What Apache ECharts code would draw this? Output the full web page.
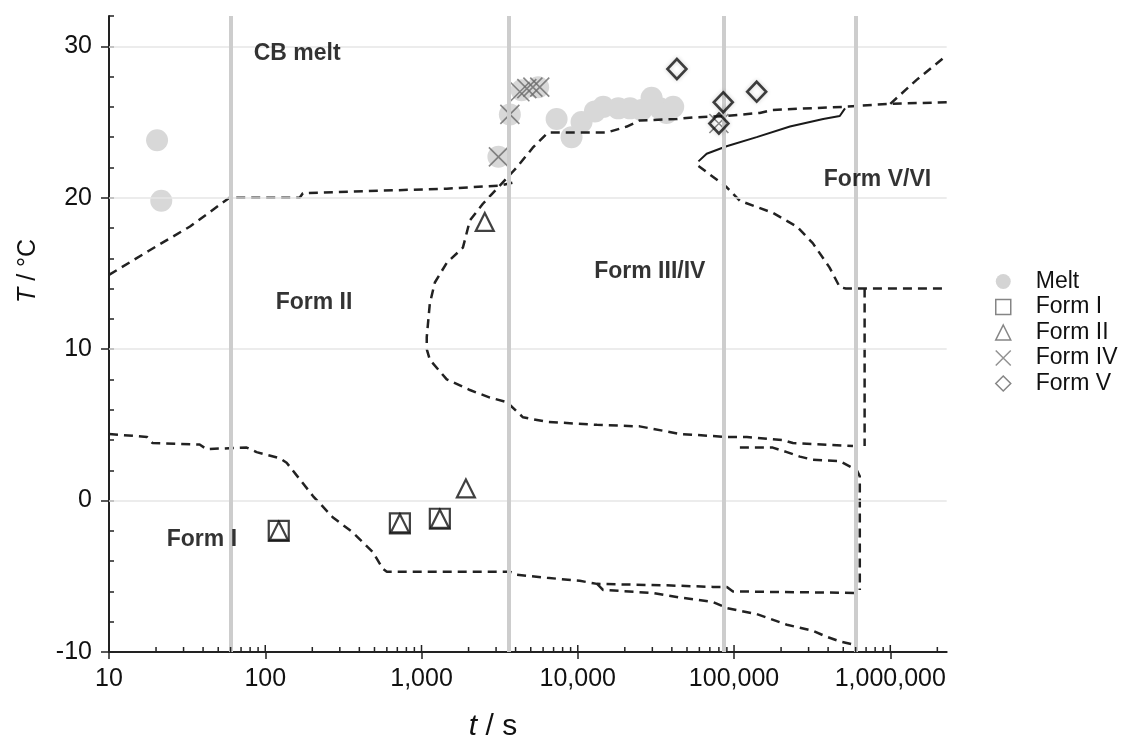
<!DOCTYPE html>
<html>
<head>
<meta charset="utf-8">
<title>Cocoa butter polymorph map</title>
<script src="https://cdn.jsdelivr.net/npm/echarts@6/dist/echarts.min.js"></script>
<style>
    html, body { margin: 0; padding: 0; background: #fff; }
    #chart { width: 1128px; height: 740px; }
</style>
</head>
<body>
<div id="chart"></div>
<script>
// t in s, T in °C
var melt = [[20.3, 23.8], [21.6, 19.8], [3105, 22.7], [3675, 25.5], [4370, 27.1], [5580, 27.3],
    [7320, 25.2], [9120, 24.0], [10570, 25.0], [12870, 25.7], [14560, 26.0], [18160, 25.9],
    [21580, 25.9], [25610, 25.8], [29670, 26.6], [33550, 25.9], [37000, 25.6], [40800, 26.0]];
var formI = [[122, -2.0], [727, -1.5], [1310, -1.2]];
var formII = [[122, -2.0], [727, -1.5], [1310, -1.2], [1923, 0.8], [2540, 18.4]];
var formIV = [[3105, 22.7], [3675, 25.5], [4260, 27.0], [4720, 27.2], [5160, 27.3], [5710, 27.3], [80000, 24.9]];
var formV = [[43100, 28.5], [85300, 26.3], [80000, 24.9], [139600, 27.0]];

// phase boundaries
var bMeltII = [[10, 14.9], [18, 16.5], [33, 18.1], [59, 20.0], [166, 20.0], [174, 20.3], [1450, 20.6], [3170, 20.8], [3840, 21.0]];
var bCurve = [[2296000, 26.3], [995000, 26.2], [498000, 26.0], [177000, 25.8], [146000, 25.6], [90000, 25.4],
    [54500, 25.3], [43000, 25.2], [24900, 25.1], [20600, 24.7], [15300, 24.3], [7670, 24.3], [6430, 24.3],
    [5150, 23.3], [4070, 22.0], [3170, 20.8], [2470, 19.6], [2040, 18.5], [1840, 16.7], [1450, 15.7],
    [1217, 14.4], [1130, 13.0], [1080, 10.8], [1080, 10.0], [1130, 9.3], [1450, 8.0], [2040, 7.3],
    [2740, 6.8], [3520, 6.5], [4460, 5.5], [6350, 5.2], [13270, 5.0], [24900, 4.9], [45100, 4.4],
    [90000, 4.2], [120800, 4.2], [205000, 4.0], [238000, 3.8], [577000, 3.6]];
var bSpur = [[1000000, 26.2], [1480000, 27.8], [2296000, 29.4]];
var bBranch = [[109000, 3.5], [177000, 3.5], [218000, 3.2], [264000, 2.9], [319000, 2.7], [475000, 2.6],
    [611000, 2.0], [638000, 1.6], [638000, -5.9]];
var bVVI = [[59200, 22.1], [89600, 20.7], [109000, 19.8], [177000, 19.0], [252000, 18.1], [319000, 17.0],
    [408000, 15.4], [475000, 14.1], [519000, 14.0], [2296000, 14.0]];
var bVVIdrop = [[685000, 14.0], [685000, 3.6]];
var solidV = [[59200, 22.4], [66800, 22.9], [89600, 23.4], [139600, 24.0], [228000, 24.7], [372000, 25.2],
    [475000, 25.4], [513000, 25.9]];
var bFormI = [[10, 4.4], [17.5, 4.2], [19, 3.8], [38, 3.7], [42, 3.4], [76, 3.5], [88, 3.2], [124, 2.8],
    [137, 2.5], [202, 0.3], [270, -1.1], [363, -2.1], [488, -3.4], [565, -4.5], [600, -4.7], [3170, -4.7],
    [3670, -4.7], [4070, -4.9], [6350, -5.1], [10300, -5.3], [13300, -5.5], [37100, -5.6], [73300, -5.7],
    [90000, -5.7], [98400, -6.0], [611000, -6.1]];
var bFormILow = [[13300, -5.5], [14500, -5.9], [30200, -6.1], [45100, -6.4], [73300, -6.7], [90000, -7.1],
    [140000, -7.5], [170000, -7.8], [218000, -8.2], [264000, -8.4], [319000, -8.6], [393000, -9.0],
    [475000, -9.3], [577000, -9.5]];

// 1 min, 1 h, 1 day, 1 week
var timeMarks = [60, 3600, 86400, 604800];
var gridT = [0, 10, 20, 30];
var tMin = 10, tMax = 2296000;
var regionLabels = [
    { name: 'CB melt', value: [160, 29.5] },
    { name: 'Form II', value: [205, 13.1] },
    { name: 'Form III/IV', value: [28900, 15.1] },
    { name: 'Form V/VI', value: [828000, 21.2] },
    { name: 'Form I', value: [39.3, -2.6] }
];

var FONT = "'Liberation Sans', Arial, sans-serif";

// log minor ticks 1..9 x 10^n
var logTicks = [];
for (var d = 10; d < tMax; d *= 10) {
    for (var k = 1; k < 10; k++) {
        if (k * d <= tMax) logTicks.push([k * d, k === 1 ? 1 : 0]);
    }
}

function dashed(name, data) {
    return {
        name: name, type: 'line', data: data, symbol: 'none', silent: true, z: 3,
        lineStyle: { color: '#222', width: 2.5, type: [9, 6] }
    };
}

function withCommas(v) {
    return String(Math.round(v)).replace(/\B(?=(\d{3})+(?!\d))/g, ',');
}

var chart = echarts.init(document.getElementById('chart'));
var option = {
    animation: false,
    textStyle: { fontFamily: FONT },
    grid: { left: 109, right: 181.3, top: 16, bottom: 88 },
    xAxis: {
        type: 'log', logBase: 10, min: tMin, max: tMax,
        axisLine: { onZero: false, lineStyle: { color: '#222', width: 2 } },
        axisTick: { length: 7, lineStyle: { color: '#222', width: 1.5 } },
        axisLabel: {
            fontSize: 25, color: '#111', margin: 15, fontFamily: FONT,
            showMaxLabel: false, formatter: withCommas
        },
        splitLine: { show: false }
    },
    yAxis: [{
        type: 'value', min: -10, max: 32, interval: 10,
        axisLine: { onZero: false, lineStyle: { color: '#222', width: 2 } },
        axisTick: { length: 8, lineStyle: { color: '#222', width: 1.5 } },
        axisLabel: { fontSize: 25, color: '#111', margin: 17, fontFamily: FONT, showMaxLabel: false },
        splitLine: { show: false }
    }, {
        type: 'value', min: -10, max: 32, interval: 2, position: 'left',
        axisLine: { show: false, onZero: false },
        axisTick: { inside: true, length: 5, lineStyle: { color: '#222', width: 1.5 } },
        axisLabel: { show: false },
        splitLine: { show: false }
    }],
    legend: {
        orient: 'vertical', left: 990, top: 264,
        itemWidth: 15, itemHeight: 15, itemGap: 0.5,
        textStyle: { fontSize: 23, color: '#111', fontFamily: FONT, lineHeight: 25, padding: [0, 0, 0, 20] },
        data: [
            { name: 'Melt', itemStyle: { color: '#d4d4d4', borderWidth: 0 } },
            { name: 'Form I', itemStyle: { color: 'transparent', borderColor: '#666', borderWidth: 1.5 } },
            { name: 'Form II', itemStyle: { color: 'transparent', borderColor: '#666', borderWidth: 1.5 } },
            { name: 'Form IV', itemStyle: { color: 'transparent', borderColor: '#777', borderWidth: 1.5 } },
            { name: 'Form V', itemStyle: { color: 'transparent', borderColor: '#666', borderWidth: 1.5 } }
        ]
    },
    graphic: [{
        type: 'text', x: 493, y: 727,
        style: {
            text: '{i|t} / s', fill: '#111', fontSize: 30, fontFamily: FONT,
            align: 'center', verticalAlign: 'middle',
            rich: { i: { fontStyle: 'italic', fontSize: 30, fontFamily: FONT, fill: '#111' } }
        }
    }, {
        type: 'text', x: 28, y: 271, rotation: Math.PI / 2,
        style: {
            text: '{i|T} / °C', fill: '#111', fontSize: 25, fontFamily: FONT,
            align: 'center', verticalAlign: 'middle',
            rich: { i: { fontStyle: 'italic', fontSize: 25, fontFamily: FONT, fill: '#111' } }
        }
    }],
    series: [
        {
            name: 'guides', type: 'line', data: [], z: 1, silent: true,
            markLine: {
                silent: true, symbol: 'none', label: { show: false }, animation: false,
                data: gridT.map(function (v) {
                    return { yAxis: v, lineStyle: { color: '#e6e6e6', width: 1.5, type: 'solid' } };
                }).concat(timeMarks.map(function (v) {
                    return { xAxis: v, lineStyle: { color: '#cdcdcd', width: 4, type: 'solid' } };
                }))
            }
        },
        {
            name: 'Melt', type: 'scatter', data: melt, symbol: 'circle', symbolSize: 22, z: 2,
            itemStyle: { color: '#d8d8d8', opacity: 1 }
        },
        dashed('b1', bMeltII),
        dashed('b2', bCurve),
        dashed('b3', bSpur),
        dashed('b4', bBranch),
        dashed('b5', bVVI),
        dashed('b6', bVVIdrop),
        dashed('b7', bFormI),
        dashed('b8', bFormILow),
        {
            name: 'solid', type: 'line', data: solidV, symbol: 'none', silent: true, z: 3,
            lineStyle: { color: '#1a1a1a', width: 2 }
        },
        {
            name: 'Form IV', type: 'scatter', data: formIV, z: 4,
            symbol: 'path://M0,0L20,20M20,0L0,20', symbolSize: 19,
            itemStyle: { color: 'transparent', borderColor: '#6a6a6a', borderWidth: 1.6 }
        },
        {
            name: 'Form V', type: 'scatter', data: formV, z: 5,
            symbol: 'diamond', symbolSize: [19, 20],
            itemStyle: {
                color: 'transparent', borderColor: '#111', borderWidth: 2.6,
                shadowColor: 'rgba(0,0,0,0.25)', shadowBlur: 4
            }
        },
        {
            name: 'Form I', type: 'scatter', data: formI, z: 5,
            symbol: 'rect', symbolSize: 20,
            itemStyle: { color: 'transparent', borderColor: '#111', borderWidth: 2.2 }
        },
        {
            name: 'Form II', type: 'scatter', data: formII, z: 6,
            symbol: 'triangle', symbolSize: 18,
            itemStyle: { color: 'transparent', borderColor: '#111', borderWidth: 2.2 }
        },
        {
            name: 'regions', type: 'scatter', data: regionLabels, symbolSize: 0, z: 7, silent: true,
            itemStyle: { color: 'transparent' },
            label: {
                show: true, position: 'inside', formatter: '{b}',
                fontSize: 23, fontWeight: 'bold', color: '#000', fontFamily: FONT
            }
        },
        {
            name: 'minorTicks', type: 'custom', data: logTicks, z: 8, silent: true,
            renderItem: function (params, api) {
                var p = api.coord([api.value(0), -10]);
                var len = api.value(1) ? 7 : 5;
                return {
                    type: 'line',
                    shape: { x1: p[0], y1: p[1], x2: p[0], y2: p[1] - len },
                    style: { stroke: '#222', lineWidth: 1.5 }
                };
            }
        }
    ]
};
chart.setOption(option);
</script>
</body>
</html>
